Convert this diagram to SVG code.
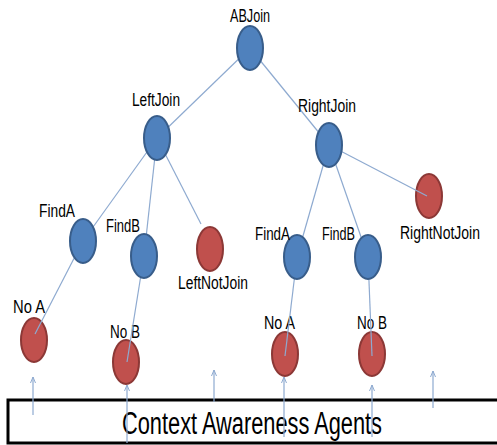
<svg xmlns="http://www.w3.org/2000/svg" width="497" height="445" viewBox="0 0 497 445">
<defs>
<marker id="arr" markerWidth="8" markerHeight="8" refX="7" refY="4" orient="auto" markerUnits="userSpaceOnUse" viewBox="0 0 8 8">
<path d="M1,1.5 L7,4 L1,6.5" fill="none" stroke="#8eaad0" stroke-width="1"/>
</marker>
<style>
.blue{fill:#4f81bd;stroke:#385d8a;stroke-width:2}
.red{fill:#c0504d;stroke:#8c3836;stroke-width:2}
.ln{stroke:#8eaad0;stroke-width:1.2;fill:none}
.up{stroke:#8eaad0;stroke-width:1.2;fill:none;marker-end:url(#arr)}
text{font-family:"Liberation Sans",Arial,sans-serif;font-size:18px;fill:#000}
.big{font-size:31px}
</style>
</defs>
<rect width="497" height="445" fill="#fff"/>
<g id="box">
<rect x="8" y="400" width="500" height="43" fill="#fff" stroke="#000" stroke-width="3"/>
<text class="big" x="122" y="434" textLength="260" lengthAdjust="spacingAndGlyphs">Context Awareness Agents</text>
</g>
<g id="noA-left"><ellipse class="red" cx="34" cy="340" rx="13" ry="22"/><text x="13" y="313" textLength="32" lengthAdjust="spacingAndGlyphs">No A</text></g>
<g id="noB-left"><ellipse class="red" cx="126" cy="362" rx="13" ry="22"/><text x="110" y="338" textLength="30" lengthAdjust="spacingAndGlyphs">No B</text></g>
<g id="noA-right"><ellipse class="red" cx="285" cy="354" rx="13" ry="22"/><text x="264" y="329" textLength="31" lengthAdjust="spacingAndGlyphs">No A</text></g>
<g id="noB-right"><ellipse class="red" cx="372" cy="354" rx="13" ry="22"/><text x="357" y="329" textLength="30" lengthAdjust="spacingAndGlyphs">No B</text></g>
<g id="leftNotJoin"><ellipse class="red" cx="210" cy="249" rx="13" ry="22"/><text x="178" y="289" textLength="70" lengthAdjust="spacingAndGlyphs">LeftNotJoin</text></g>
<g id="rightNotJoin"><ellipse class="red" cx="429" cy="196" rx="13" ry="22"/><text x="400" y="239" textLength="80" lengthAdjust="spacingAndGlyphs">RightNotJoin</text></g>
<g id="connectors">
<line class="ln" x1="250" y1="48" x2="157" y2="138"/>
<line class="ln" x1="250" y1="48" x2="329" y2="145"/>
<line class="ln" x1="157" y1="138" x2="83" y2="241"/>
<line class="ln" x1="157" y1="138" x2="144" y2="256"/>
<line class="ln" x1="157" y1="138" x2="201" y2="224"/>
<line class="ln" x1="329" y1="145" x2="297" y2="257"/>
<line class="ln" x1="329" y1="145" x2="368" y2="257"/>
<line class="ln" x1="329" y1="145" x2="427" y2="196"/>
<line class="ln" x1="83" y1="241" x2="35" y2="334"/>
<line class="ln" x1="144" y1="256" x2="127" y2="362"/>
<line class="ln" x1="297" y1="257" x2="285" y2="356"/>
<line class="ln" x1="368" y1="257" x2="372" y2="356"/>
<line class="up" x1="33" y1="415" x2="33" y2="377"/>
<line class="up" x1="127" y1="443" x2="127" y2="385"/>
<line class="up" x1="214" y1="402" x2="214" y2="370"/>
<line class="up" x1="284" y1="437" x2="284" y2="377"/>
<line class="up" x1="372" y1="437" x2="372" y2="385"/>
<line class="up" x1="433" y1="408" x2="433" y2="371"/>
</g>
<g id="abJoin"><ellipse class="blue" cx="250" cy="48" rx="13" ry="22"/><text x="230" y="22" textLength="40" lengthAdjust="spacingAndGlyphs">ABJoin</text></g>
<g id="leftJoin"><ellipse class="blue" cx="157" cy="138" rx="13" ry="22"/><text x="132" y="106" textLength="48" lengthAdjust="spacingAndGlyphs">LeftJoin</text></g>
<g id="rightJoin"><ellipse class="blue" cx="329" cy="145" rx="13" ry="22"/><text x="298" y="112" textLength="58" lengthAdjust="spacingAndGlyphs">RightJoin</text></g>
<g id="findA-left"><ellipse class="blue" cx="83" cy="241" rx="13" ry="22"/><text x="39" y="217" textLength="36" lengthAdjust="spacingAndGlyphs">FindA</text></g>
<g id="findB-left"><ellipse class="blue" cx="144" cy="256" rx="13" ry="22"/><text x="106" y="232" textLength="34" lengthAdjust="spacingAndGlyphs">FindB</text></g>
<g id="findA-right"><ellipse class="blue" cx="297" cy="257" rx="13" ry="22"/><text x="255" y="240" textLength="35" lengthAdjust="spacingAndGlyphs">FindA</text></g>
<g id="findB-right"><ellipse class="blue" cx="368" cy="257" rx="13" ry="22"/><text x="322" y="240" textLength="33" lengthAdjust="spacingAndGlyphs">FindB</text></g>
</svg>
